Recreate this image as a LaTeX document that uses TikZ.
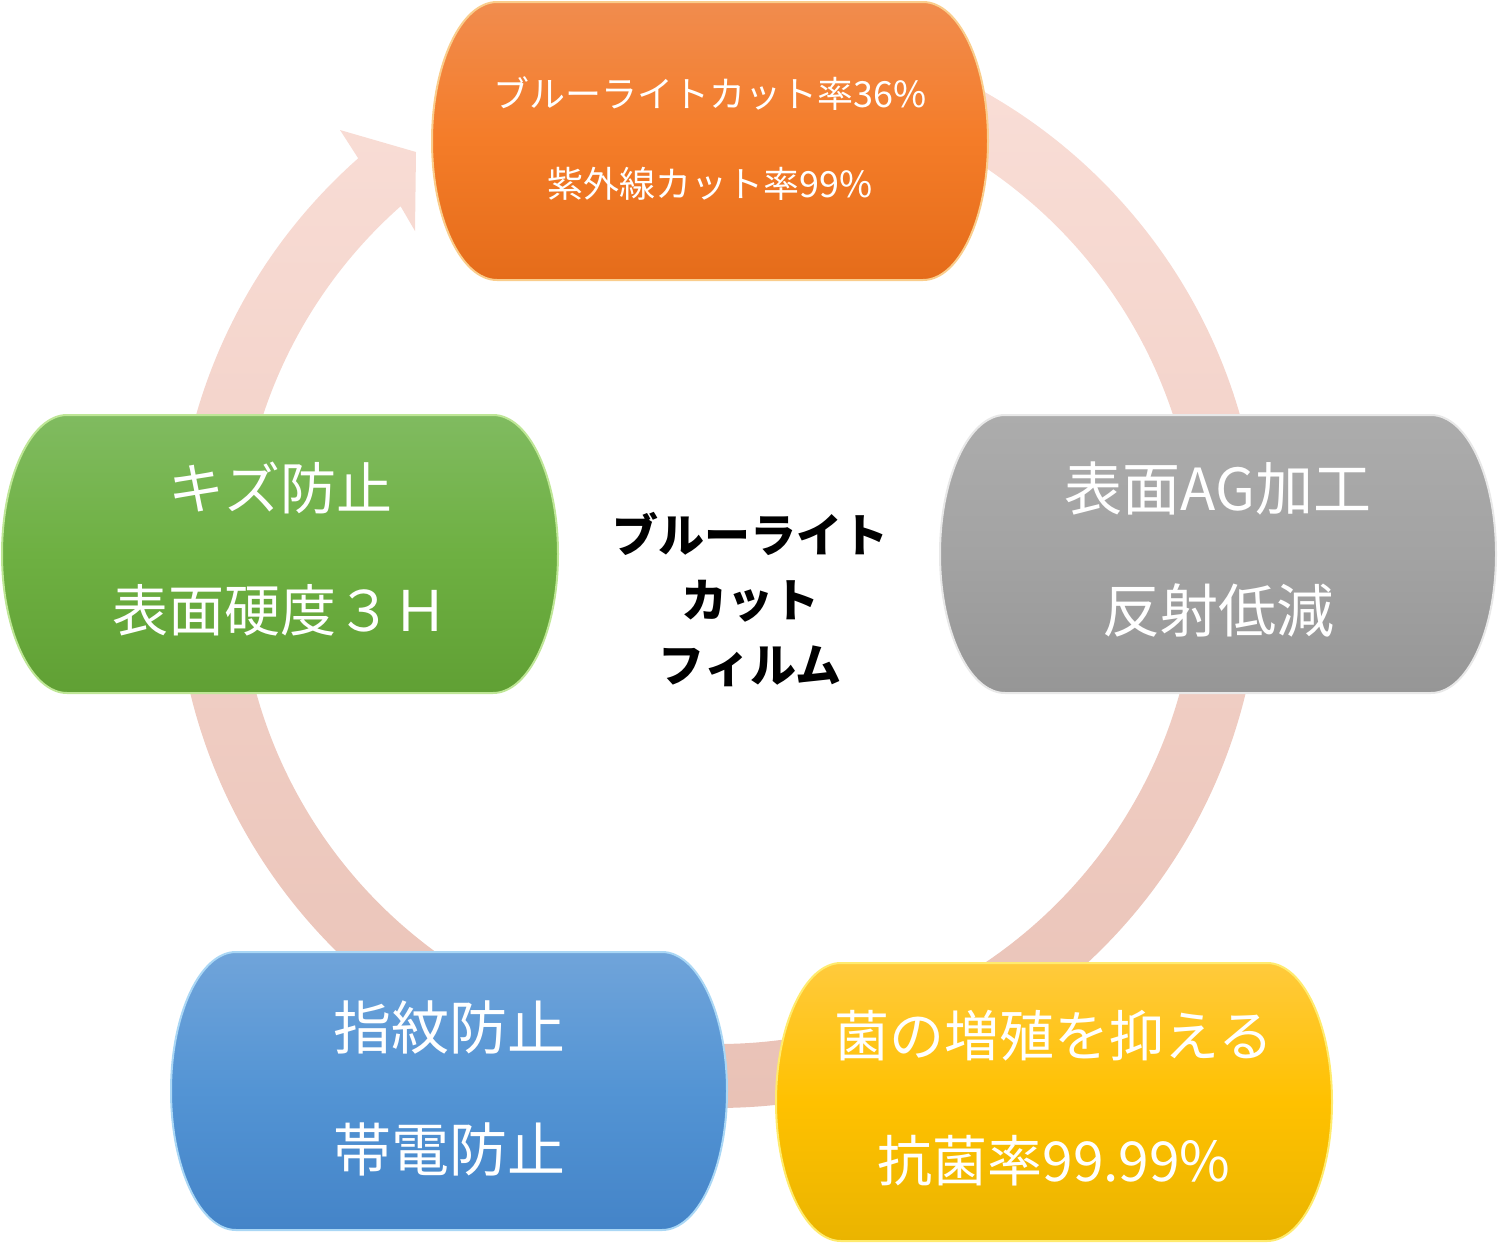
\documentclass[tikz,border=0pt]{standalone}
\usepackage{fontspec}
\setmainfont{Noto Sans CJK JP}
\definecolor{ringtop}{RGB}{250,223,216}
\definecolor{ringbot}{RGB}{232,192,180}
\definecolor{orTop}{RGB}{241,140,78}
\definecolor{orMid}{RGB}{244,124,40}
\definecolor{orBot}{RGB}{229,108,26}
\definecolor{orEdge}{RGB}{250,205,140}
\definecolor{grTop}{RGB}{128,187,96}
\definecolor{grMid}{RGB}{110,176,66}
\definecolor{grBot}{RGB}{96,160,52}
\definecolor{grEdge}{RGB}{190,230,150}
\definecolor{gyTop}{RGB}{172,172,172}
\definecolor{gyMid}{RGB}{163,163,163}
\definecolor{gyBot}{RGB}{150,150,150}
\definecolor{gyEdge}{RGB}{232,232,232}
\definecolor{blTop}{RGB}{112,164,218}
\definecolor{blMid}{RGB}{83,148,212}
\definecolor{blBot}{RGB}{68,132,200}
\definecolor{blEdge}{RGB}{170,215,245}
\definecolor{ylTop}{RGB}{255,202,60}
\definecolor{ylMid}{RGB}{255,193,0}
\definecolor{ylBot}{RGB}{234,180,0}
\definecolor{ylEdge}{RGB}{255,235,110}
\tikzset{
  capfill/.style={line width=2pt},
  orfill/.style={capfill, draw=orEdge, top color=orTop, bottom color=orBot, middle color=orMid},
  grfill/.style={capfill, draw=grEdge, top color=grTop, bottom color=grBot, middle color=grMid},
  gyfill/.style={capfill, draw=gyEdge, top color=gyTop, bottom color=gyBot, middle color=gyMid},
  blfill/.style={capfill, draw=blEdge, top color=blTop, bottom color=blBot, middle color=blMid},
  ylfill/.style={capfill, draw=ylEdge, top color=ylTop, bottom color=ylBot, middle color=ylMid},
  captext/.style={text=white, align=center, inner sep=0pt, minimum width=556pt, minimum height=278pt},
  ortext/.style={captext, font=\fontsize{36}{90}\selectfont},
  grtext/.style={captext, font=\fontsize{56}{122}\selectfont},
  gytext/.style={captext, font=\fontsize{58}{122}\selectfont},
  bltext/.style={captext, font=\fontsize{58}{122}\selectfont},
  yltext/.style={captext, font=\fontsize{55}{125}\selectfont},
  centertext/.style={align=center, text=black, inner sep=0pt,
    font=\bfseries\fontsize{46}{65}\selectfont}
}
% capsule outline: #1 centre x, #2 centre y, #3 style
\newcommand\capsule[3]{%
  \path[#3] (#1-213,#2-139) -- (#1+213,#2-139)
    arc[start angle=-90,end angle=90,x radius=65,y radius=139]
    -- (#1-213,#2+139)
    arc[start angle=90,end angle=270,x radius=65,y radius=139] -- cycle;}
\begin{document}
\begin{tikzpicture}[x=1pt,y=-1pt]
\useasboundingbox (0,0) rectangle (1500,1245);
% circular arrow ring (one outline: head + shaft)
\shade[top color=ringtop,bottom color=ringbot]
  (358.2,158.3) arc[start angle=-131.5,end angle=-450,radius=543]
  -- (718,86) arc[start angle=-450,end angle=-131.5,radius=479]
  -- (415,231) -- (416,152) -- (340,130) -- cycle;
% boxes
\capsule{710}{141}{orfill}
\capsule{280}{554}{grfill}
\capsule{1218}{554}{gyfill}
\capsule{449}{1091}{blfill}
\capsule{1054}{1102}{ylfill}
\node[ortext] (uv) at (710,139) {ブルーライトカット率36\%\\紫外線カット率99\%};
\node[grtext] (scratch) at (280,549) {キズ防止\\表面硬度３Ｈ};
\node[gytext] (ag) at (1218,550) {表面AG加工\\反射低減};
\node[bltext] (finger) at (449,1088) {指紋防止\\帯電防止};
\node[yltext] (anti) at (1054,1098) {菌の増殖を抑える\\抗菌率99.99\%};
\node[centertext] (title) at (750,600) {ブルーライト\\カット\\フィルム};
\end{tikzpicture}
\end{document}
